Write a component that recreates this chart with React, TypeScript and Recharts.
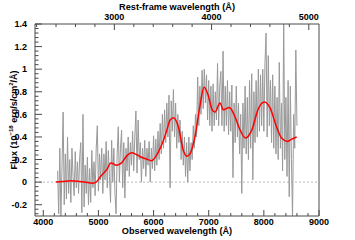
import React from 'react';
import { ComposedChart, Line, XAxis, YAxis, ReferenceLine } from 'recharts';

const Z1 = 1.763; // 1 + z, observed -> rest frame

// observed spectrum, 20 Å sampling starting at 4260 Å
const SPEC_START = 4260;
const SPEC_STEP = 20;
const SPEC_FLUX = [
  0.1, -0.28, 0.3, -0.3, 0.15, 0.62, -0.2, 0.25, -0.15, 0.4,
  -0.1, 0.2, -0.18, 0.3, 0.05, -0.12, 0.27, -0.05, 0.18, -0.1,
  0.22, 0.35, -0.27, 0.6, -0.22, 0.15, -0.1, 0.22, -0.2, 0.12,
  -0.18, 0.28, -0.05, 0.18, -0.12, 0.3, 0.5, -0.08, 0.25, 0.02,
  0.3, -0.1, 0.25, 0.02, 0.36, -0.05, 0.28, 0.05, -0.18, 0.37,
  0.0, 0.3, -0.1, -0.28, 0.25, 0.49, 0.0, 0.3, 0.46, -0.05,
  0.35, -0.14, 0.3, 0.1, 0.4, 0.05, 0.35, 0.15, 0.45, 0.1,
  0.4, 0.63, 0.08, 0.55, 0.2, 0.35, 0.0, 0.3, 0.12, 0.37,
  0.05, 0.3, 0.15, 0.36, 0.0, 0.3, 0.12, 0.41, 0.1, 0.38,
  0.15, 0.45, 0.2, 0.52, 0.25, 0.6, 0.3, 0.64, 0.35, 0.7,
  0.4, 0.77, -0.05, 0.72, 0.45, 0.82, 0.4, 0.7, 0.3, 0.6,
  0.35, 0.55, 0.2, 0.45, 0.15, 0.4, 0.05, 0.35, 0.0, 0.4,
  0.1, 0.35, 0.2, 0.5, 0.3, 0.6, 0.4, 0.93, 0.5, 0.85,
  0.6, 0.99, 0.65, 1.0, 0.7, 0.95, 0.55, 0.9, 0.5, 0.85,
  0.45, 0.87, 0.5, 0.8, 0.55, 1.05, 0.5, 0.85, 0.98, 0.5,
  1.16, 0.45, 0.85, 0.5, 0.9, 0.42, 0.8, 0.45, 0.86, 0.04,
  0.7, 0.35, 0.85, 0.4, 0.7, 0.25, 0.6, -0.1, 0.7, 0.3,
  0.85, 0.25, 0.75, 0.2, 0.9, 0.3, 0.96, 0.02, 0.8, 0.35,
  0.9, 0.4, 1.0, 0.45, 0.95, 0.5, 1.0, 0.45, 1.05, 1.32,
  0.4, 1.12, 0.5, 0.9, 0.35, 0.95, 0.3, 0.85, 0.25, 0.75,
  0.2, 1.06, 0.3, 0.7, 0.1, 1.45, 0.2, 0.75, 0.05, 0.9,
  -0.13, 0.85, 0.2, -0.32, 0.6, 0.3, 1.17, 0.5,
];

// smooth model
const MODEL_WL = [
  4230, 4350, 4500, 4620, 4750, 4900, 4970, 5030, 5150, 5225, 5330, 5420,
  5510, 5600, 5690, 5780, 5870, 5960, 6090, 6180, 6240, 6300, 6360, 6450,
  6540, 6600, 6660, 6750, 6840, 6915, 6990, 7055, 7115, 7205, 7265, 7375,
  7475, 7570, 7670, 7780, 7900, 8010, 8110, 8230, 8320, 8430, 8505, 8595,
];
const MODEL_FLUX = [
  0, 0.005, 0.012, 0.008, 0, -0.01, 0.005, 0.045, 0.11, 0.17, 0.15, 0.17,
  0.23, 0.26, 0.245, 0.22, 0.205, 0.19, 0.27, 0.37, 0.46, 0.55, 0.57, 0.49,
  0.28, 0.23, 0.25, 0.4, 0.67, 0.84, 0.77, 0.65, 0.62, 0.7, 0.64, 0.66,
  0.58, 0.46, 0.39, 0.46, 0.65, 0.71, 0.66, 0.49, 0.39, 0.36, 0.38, 0.4,
];

const OBS_MAJOR = [4000, 5000, 6000, 7000, 8000, 9000];
const REST_MAJOR = [3000, 4000, 5000];
const FLUX_MAJOR = [-0.2, 0, 0.2, 0.4, 0.6, 0.8, 1, 1.2, 1.4];

const spectrum = SPEC_FLUX.map((f, i) => ({ wl: SPEC_START + i * SPEC_STEP, flux: f }));
const model = MODEL_WL.map((wl, i) => ({ wl, model: MODEL_FLUX[i] }));

function steps(from: number, to: number, step: number) {
  const out: number[] = [];
  for (let v = from; v <= to + 1e-9; v += step) out.push(Math.round(v * 1000) / 1000);
  return out;
}
const OBS_TICKS = steps(4000, 9000, 200);
const REST_TICKS = steps(2200, 5000, 200).map(r => r * Z1);
const FLUX_TICKS = steps(-0.28, 1.4, 0.04);

const AXIS = '#4a4a4a';
const FONT = '"Liberation Sans", Arial, Helvetica, sans-serif';
const TXT = { fontFamily: FONT, fontWeight: 700, fontSize: 9, fill: '#000' };

function BottomTick({ x, y, payload }: any) {
  const major = OBS_MAJOR.includes(payload.value);
  return (
    <g>
      <line x1={x} x2={x} y1={y} y2={y - (major ? 6 : 3)} stroke={AXIS} />
      {major && <text x={x} y={y + 8.5} textAnchor="middle" {...TXT}>{payload.value}</text>}
    </g>
  );
}

function TopTick({ x, y, payload }: any) {
  const rest = Math.round(payload.value / Z1);
  const major = REST_MAJOR.includes(rest);
  return (
    <g>
      <line x1={x} x2={x} y1={y} y2={y + (major ? 6 : 3)} stroke={AXIS} />
      {major && <text x={x} y={y - 4.5} textAnchor="middle" {...TXT}>{rest}</text>}
    </g>
  );
}

function LeftTick({ x, y, payload }: any) {
  const major = FLUX_MAJOR.some(m => Math.abs(m - payload.value) < 1e-6);
  return (
    <g>
      <line x1={x} x2={x + (major ? 7 : 3.5)} y1={y} y2={y} stroke={AXIS} />
      {major && <text x={x - 8} y={y + 3.2} textAnchor="end" {...TXT}>{String(payload.value)}</text>}
    </g>
  );
}

function BottomTitle({ viewBox }: any) {
  const { x, y, width } = viewBox;
  return (
    <text x={x + width / 2} y={y + 17.5} textAnchor="middle" {...TXT} fontSize={9.2}>
      Observed wavelength (Å)
    </text>
  );
}

function TopTitle({ viewBox }: any) {
  const { x, y, width } = viewBox;
  return (
    <text x={x + width / 2} y={y + 10} textAnchor="middle" {...TXT} fontSize={9.2}>
      Rest-frame wavelength (Å)
    </text>
  );
}

function LeftTitle({ viewBox }: any) {
  const { y, height } = viewBox;
  const cx = 16.5;
  const cy = y + height / 2;
  return (
    <text x={cx} y={cy} textAnchor="middle" transform={`rotate(-90 ${cx} ${cy})`} {...TXT}>
      Flux (10<tspan dy={-3.5} fontSize={6}>−18</tspan>
      <tspan dy={3.5}> erg/s/cm</tspan>
      <tspan dy={-3.5} fontSize={6}>2</tspan>
      <tspan dy={3.5}>/Å)</tspan>
    </text>
  );
}

export default function App() {
  return (
    <div style={{ position: 'absolute', left: 0, top: 0, width: 355, height: 240, background: '#fff' }}>
      <ComposedChart width={355} height={240} margin={{ top: 0, right: 36, bottom: 0, left: 0 }}>
        <XAxis
          dataKey="wl" type="number" domain={[3850, 9000]} allowDataOverflow
          ticks={OBS_TICKS} interval={0} tick={<BottomTick />} tickSize={0} tickMargin={0}
          tickLine={false} axisLine={{ stroke: AXIS }} height={24}
          label={<BottomTitle />}
        />
        <XAxis
          xAxisId="top" orientation="top" dataKey="wl" type="number" domain={[3850, 9000]} allowDataOverflow
          ticks={REST_TICKS} interval={0} tick={<TopTick />} tickSize={0} tickMargin={0}
          tickLine={false} axisLine={{ stroke: AXIS }} height={24}
          label={<TopTitle />}
        />
        <YAxis
          type="number" domain={[-0.3, 1.4]} allowDataOverflow
          ticks={FLUX_TICKS} interval={0} tick={<LeftTick />} tickSize={0} tickMargin={0}
          tickLine={false} axisLine={{ stroke: AXIS }} width={35}
          label={<LeftTitle />}
        />
        <ReferenceLine y={0} stroke="#b8b8b8" strokeDasharray="2 2" />
        <ReferenceLine x={9000} stroke={AXIS} />
        <Line
          data={spectrum} dataKey="flux" type="linear" stroke="#999999" strokeWidth={1}
          dot={false} isAnimationActive={false}
        />
        <Line
          data={model} dataKey="model" xAxisId="top" type="monotone" stroke="#ff0000" strokeWidth={1.5}
          dot={false} isAnimationActive={false}
        />
      </ComposedChart>
    </div>
  );
}
